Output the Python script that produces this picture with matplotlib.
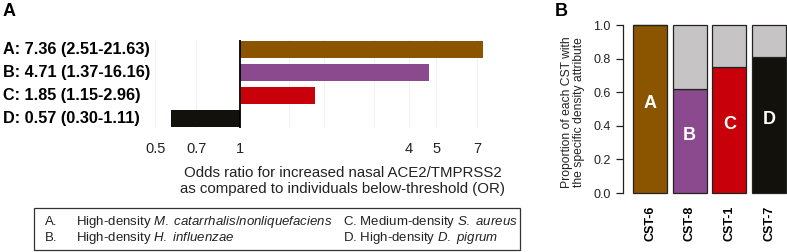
import numpy as np
import matplotlib
matplotlib.use("Agg")
import matplotlib.pyplot as plt
import matplotlib.transforms as mtransforms
from matplotlib.patches import Rectangle

plt.rcParams['font.family'] = ['Liberation Sans', 'DejaVu Sans']
plt.rcParams['mathtext.fontset'] = 'custom'
plt.rcParams['mathtext.rm'] = 'Liberation Sans'
plt.rcParams['mathtext.it'] = 'Liberation Sans:italic'

# panel A data
or_labels = ["A: 7.36 (2.51-21.63)", "B: 4.71 (1.37-16.16)",
             "C: 1.85 (1.15-2.96)", "D: 0.57 (0.30-1.11)"]
or_values = [7.36, 4.71, 1.85, 0.57]
x_ticks = [0.5, 0.7, 1, 4, 5, 7]
x_grid = [0.5, 0.7, 1.5, 2, 3, 4, 5, 7]

# panel B data
cst_names = ["CST-6", "CST-8", "CST-1", "CST-7"]
cst_letters = ["A", "B", "C", "D"]
cst_props = [1.0, 0.62, 0.75, 0.81]

colors = ["#8b5500", "#8b4a8e", "#c8000a", "#13110c"]
grey = "#c6c4c5"

W, H = 787, 252
fig = plt.figure(figsize=(W / 100, H / 100), dpi=100)

def fx(px):
    return px / W

def fy(py):
    return 1 - py / H

# ---- panel A ----
axA = fig.add_axes([fx(150), fy(128), fx(350), 88 / H])
axA.set_xscale('log')
ypos = np.arange(len(or_values))
axA.barh(ypos, [v - 1 for v in or_values], left=1, height=0.75,
         color=colors, zorder=2)
axA.axvline(1, color='black', lw=1.3, zorder=3)
for g in x_grid:
    axA.axvline(g, color='#f2f2f2', lw=0.8, zorder=0)
axA.set_xlim(0.478, 8.45)
axA.set_ylim(3.44, -0.44)
axA.set_yticks([])
axA.set_xticks(x_ticks)
axA.set_xticklabels([str(t) for t in x_ticks])
axA.xaxis.set_minor_locator(matplotlib.ticker.NullLocator())
axA.tick_params(axis='x', length=0, pad=10, labelsize=10.5, colors='#222222')
for s in axA.spines.values():
    s.set_visible(False)

trans = mtransforms.blended_transform_factory(fig.transFigure, axA.transData)
for y, lab in zip(ypos, or_labels):
    axA.text(fx(3), y, lab, transform=trans, ha='left', va='center',
             fontsize=11.7, fontweight='bold')

fig.text(fx(343), fy(181), "Odds ratio for increased nasal ACE2/TMPRSS2\n"
         "as compared to individuals below-threshold (OR)",
         ha='center', va='center', fontsize=10.8, color='#222222',
         multialignment='center')

fig.text(fx(9), fy(11), "A", ha='center', va='center', fontsize=13,
         fontweight='bold')

# legend box
fig.patches.append(Rectangle((fx(34), fy(250)), fx(486), (250 - 208) / H,
                             transform=fig.transFigure, fill=False,
                             edgecolor='#333333', lw=0.9))
leg = [
    (45, 222, "A."),
    (76, 222, r"High-density $\mathit{M.}$ $\mathit{catarrhalis/nonliquefaciens}$"),
    (45, 238, "B."),
    (76, 238, r"High-density $\mathit{H.}$ $\mathit{influenzae}$"),
    (343, 222, r"C. Medium-density $\mathit{S.}$ $\mathit{aureus}$"),
    (343, 238, r"D. High-density $\mathit{D.}$ $\mathit{pigrum}$"),
]
for x, y, t in leg:
    fig.text(fx(x), fy(y), t, ha='left', va='center', fontsize=9.5,
             color='#222222')

# ---- panel B ----
axB = fig.add_axes([fx(623), fy(193), fx(164), 168 / H])
xb = np.arange(len(cst_props))
bw = 0.857
axB.bar(xb, cst_props, width=bw, color=colors, edgecolor='#222222',
        lw=0.9, clip_on=False, zorder=2)
axB.bar(xb, [1 - p for p in cst_props], bottom=cst_props, width=bw,
        color=grey, edgecolor='#222222', lw=0.9, clip_on=False, zorder=2)
for x, p, l in zip(xb, cst_props, cst_letters):
    axB.text(x, p / 2 + 0.03, l, ha='center', va='center', color='white',
             fontsize=13, fontweight='bold')
axB.set_xlim(-0.68, 3.45)
axB.set_ylim(0, 1)
axB.set_yticks([0, 0.2, 0.4, 0.6, 0.8, 1.0])
axB.set_yticklabels(['0.0', '0.2', '0.4', '0.6', '0.8', '1.0'])
axB.tick_params(axis='y', length=5, width=0.9, pad=4, labelsize=9,
                colors='#222222')
axB.set_xticks(xb)
axB.set_xticklabels(cst_names, rotation=90, fontweight='bold')
axB.tick_params(axis='x', length=0, pad=9, labelsize=9)
for k in ['top', 'right', 'bottom']:
    axB.spines[k].set_visible(False)
axB.spines['left'].set_linewidth(0.9)
axB.spines['left'].set_color('#222222')

fig.text(fx(573), fy(112), "Proportion of each CST with\n"
         "the specific density attribute", rotation=90, ha='center',
         va='center', fontsize=8.7, linespacing=1.05, color='#222222',
         multialignment='center')
fig.text(fx(561), fy(12), "B", ha='center', va='center', fontsize=13,
         fontweight='bold')

fig.savefig("out.png", dpi=100)
